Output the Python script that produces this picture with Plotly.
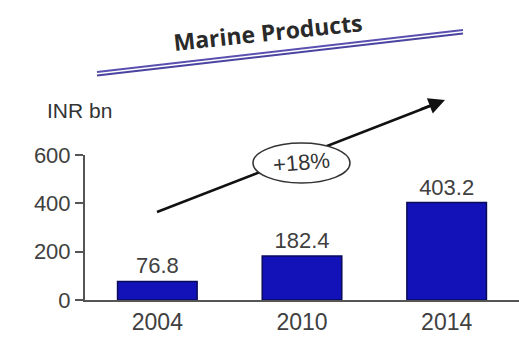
import plotly.graph_objects as go

# Marine products exports, INR bn
years = ["2004", "2010", "2014"]
values = [76.8, 182.4, 403.2]
value_labels = ["76.8", "182.4", "403.2"]
y_ticks = [0, 200, 400, 600]
growth_label = "+18%"

# plot area geometry in pixels (used to place decorations in paper units)
L, R, T, B = 85, 0, 155, 46
W, H = 519, 346
PW, PH = W - L - R, H - T - B


def px(x):
    return (x - L) / PW


def py(y):
    return (H - B - y) / PH


fig = go.Figure()
fig.add_trace(go.Bar(
    x=years, y=values, text=value_labels, textposition="outside",
    textfont=dict(size=22, color="#404040", family="Liberation Sans, Arial"),
    marker=dict(color="#1212b8", line=dict(color="#0a0a5a", width=1.5)),
    width=0.55, cliponaxis=False,
))

shapes = []
# double rule under the title
for off, col in [(0, "#5a50b0"), (3.5, "#4a44a0")]:
    shapes.append(dict(type="line", xref="paper", yref="paper",
                       x0=px(97), y0=py(72 + off), x1=px(463), y1=py(30 + off),
                       line=dict(color=col, width=2.2)))
# growth arrow shaft, partly hidden by the ellipse
shapes.append(dict(type="line", xref="paper", yref="paper", layer="above",
                   x0=px(157), y0=py(212), x1=px(430), y1=py(106),
                   line=dict(color="#111111", width=2.5)))
# growth ellipse (white fill hides the shaft behind it)
shapes.append(dict(type="circle", xref="paper", yref="paper", layer="above",
                   x0=px(253), x1=px(350), y0=py(183), y1=py(143),
                   fillcolor="white", line=dict(color="#333333", width=1.5)))

annotations = [
    dict(text="<b>Marine Products</b>", xref="paper", yref="paper",
         x=px(268), y=py(32), xanchor="center", yanchor="middle",
         showarrow=False, textangle=-6,
         font=dict(size=23, color="#2a2a2a", family="Open Sans, Arial")),
    dict(text="INR bn", xref="paper", yref="paper", x=px(45), y=py(110),
         xanchor="left", yanchor="middle", showarrow=False,
         font=dict(size=21, color="#333333", family="Liberation Sans, Arial")),
    # arrowhead at the end of the growth shaft
    dict(text="", xref="paper", yref="paper", x=px(445), y=py(100),
         axref="pixel", ayref="pixel", ax=-26, ay=10,
         showarrow=True, arrowhead=2, arrowsize=1.3, arrowwidth=2.5,
         arrowcolor="#111111"),
    dict(text=growth_label, xref="paper", yref="paper", x=px(301), y=py(162),
         xanchor="center", yanchor="middle", showarrow=False, textangle=-5,
         font=dict(size=22, color="#333333", family="Liberation Sans, Arial")),
]

fig.update_layout(
    width=W, height=H, margin=dict(l=L, r=R, t=T, b=B),
    paper_bgcolor="white", plot_bgcolor="white",
    showlegend=False, shapes=shapes, annotations=annotations,
    font=dict(family="Liberation Sans, Arial", color="#444444"),
    xaxis=dict(showline=True, linecolor="#555555", linewidth=2,
               tickfont=dict(size=23, color="#404040"), ticks="",
               showgrid=False),
    yaxis=dict(range=[0, 600], tickvals=y_ticks, showline=True,
               linecolor="#555555", linewidth=2, ticks="outside",
               ticklen=8, tickwidth=2, tickcolor="#555555",
               tickfont=dict(size=22, color="#404040"),
               showgrid=False, zeroline=False),
)

fig.write_html("out.html")
